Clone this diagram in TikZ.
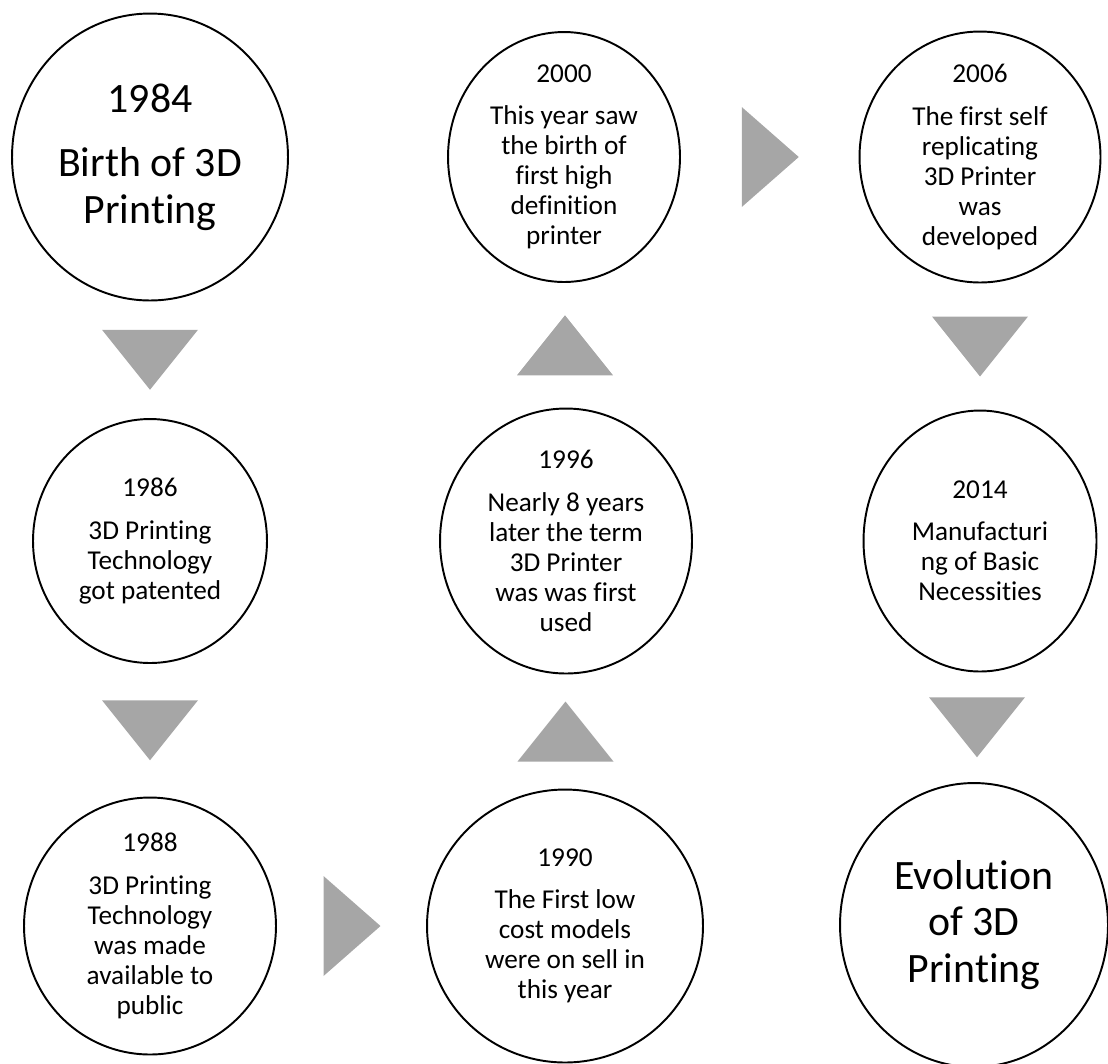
\documentclass[tikz,border=0pt]{standalone}
\usepackage{fontspec}
\setmainfont{Carlito}[Ligatures={NoCommon}]
\usepackage{tikz}
\usetikzlibrary{shapes.geometric,calc}
\definecolor{arrowgray}{RGB}{166,166,166}
\tikzstyle{bubble} = [ellipse, draw=black, line width=1.1pt, fill=white, inner sep=0pt]
\tikzstyle{small} = [align=center, inner sep=0pt, font=\fontsize{15.5}{17.1}\selectfont]
\tikzstyle{big} = [align=center, inner sep=0pt, font=\fontsize{23.8}{26.7}\selectfont]
\tikzstyle{arrow} = [fill=arrowgray]
\newcommand{\downtri}[1]{\fill[arrow] ([shift={(-48,-30)}]#1) -- ([shift={(48,-30)}]#1) -- ([shift={(0,30)}]#1) -- cycle;}
\newcommand{\uptri}[1]{\fill[arrow] ([shift={(-48,30)}]#1) -- ([shift={(48,30)}]#1) -- ([shift={(0,-30)}]#1) -- cycle;}
\newcommand{\righttri}[1]{\fill[arrow] ([shift={(-28,-50)}]#1) -- ([shift={(-28,50)}]#1) -- ([shift={(29,0)}]#1) -- cycle;}

\begin{document}
\begin{tikzpicture}[x=0.02cm,y=-0.02cm]
\useasboundingbox (0,0) rectangle (1108,1063);
% left column
\node (n1984) [bubble, minimum width=5.52cm, minimum height=5.74cm] at (150,157) {};
\node (n1986) [bubble, minimum width=4.68cm, minimum height=4.88cm] at (150,541) {};
\node (n1988) [bubble, minimum width=5.04cm, minimum height=5.14cm] at (150,926) {};
% middle column
\node (n1990) [bubble, minimum width=5.52cm, minimum height=5.46cm] at (565,926) {};
\node (n1996) [bubble, minimum width=5.04cm, minimum height=5.30cm] at (566,541) {};
\node (n2000) [bubble, minimum width=4.64cm, minimum height=5.00cm] at (564,157) {};
% right column
\node (n2006) [bubble, minimum width=4.82cm, minimum height=5.02cm] at (980,157) {};
\node (n2014) [bubble, minimum width=4.66cm, minimum height=5.22cm] at (980,541) {};
\node (nevo) [bubble, minimum width=5.36cm, minimum height=5.68cm] at (974,925) {};

\node (t1984) [big] at (n1984) {1984\\[10pt]Birth of 3D\\Printing};
\node (t1986) [small] at (n1986) {1986\\[7pt]3D Printing\\Technology\\got patented};
\node (t1988) [small] at (n1988) {1988\\[7pt]3D Printing\\Technology\\was made\\available to\\public};
\node (t1990) [small] at (n1990) {1990\\[7pt]The First low\\cost models\\were on sell in\\this year};
\node (t1996) [small] at (n1996) {1996\\[7pt]Nearly 8 years\\later the term\\3D Printer\\was was first\\used};
\node (t2000) [small] at (n2000) {2000\\[7pt]This year saw\\the birth of\\first high\\definition\\printer};
\node (t2006) [small] at (n2006) {2006\\[7pt]The first self\\replicating\\3D Printer\\was\\developed};
\node (t2014) [small] at (n2014) {2014\\[7pt]Manufacturi\\ng of Basic\\Necessities};
\node (tevo) [big] at (nevo) {Evolution\\of 3D\\Printing};

% gray arrows
\coordinate (m1) at ($(n1984.south)!0.5!(n1986.north)$);
\coordinate (m2) at ($(n1986.south)!0.5!(n1988.north)$);
\coordinate (m3) at ($(n1988.east)!0.5!(n1990.west)$);
\coordinate (m4) at ($(n1990.north)!0.5!(n1996.south)$);
\coordinate (m5) at ($(n1996.north)!0.5!(n2000.south)$);
\coordinate (m6) at ($(n2000.east)!0.5!(n2006.west)$);
\coordinate (m7) at ($(n2006.south)!0.5!(n2014.north)$);
\coordinate (m8) at ($(n2014.south)!0.5!(nevo.north)$);
\downtri{m1}
\downtri{m2}
\righttri{m3}
\uptri{m4}
\uptri{m5}
\righttri{m6}
\downtri{m7}
\downtri{m8}
\end{tikzpicture}
\end{document}
